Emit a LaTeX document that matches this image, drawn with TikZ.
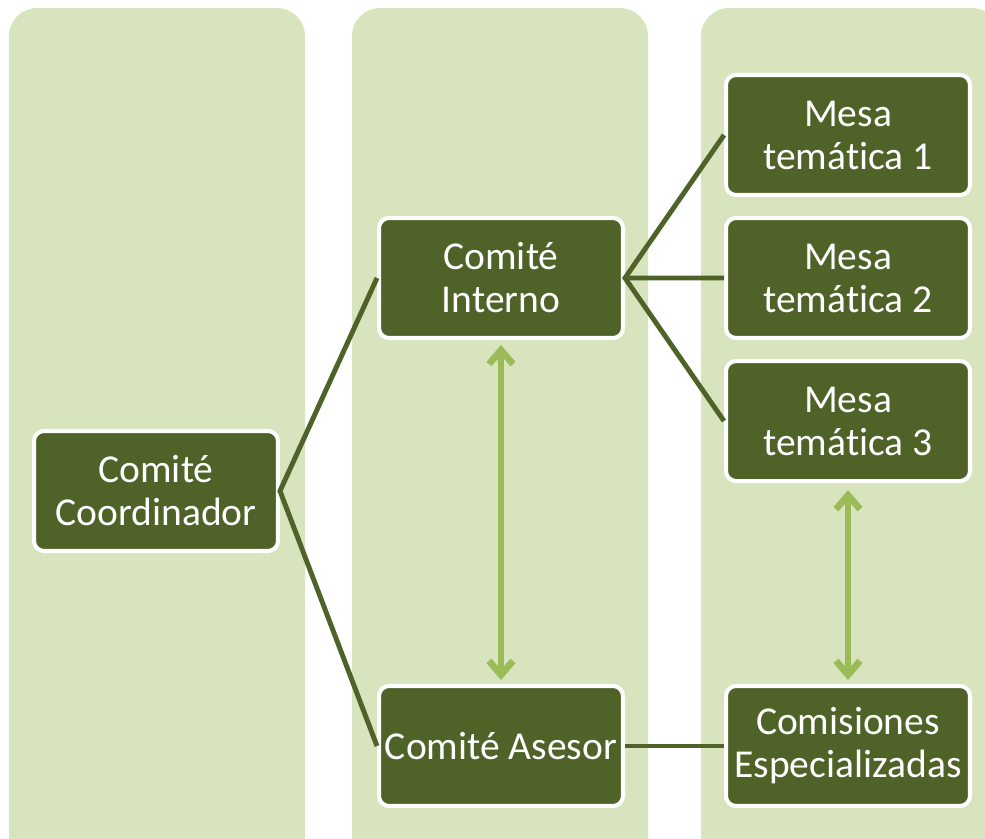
\documentclass[tikz,border=0pt]{standalone}
\usepackage{fontspec}
\setmainfont{Carlito}[RawFeature={-liga;-clig;-calt;-dlig}]
\usepackage{tikz}
\usetikzlibrary{positioning,arrows.meta}
\definecolor{leaf}{HTML}{4F6228}
\definecolor{pale}{HTML}{D7E4BD}
\definecolor{lime}{HTML}{9BBB59}
\tikzstyle{colbox} = [fill=pale, rounded corners=0.56cm]
\tikzstyle{unitbox} = [draw=white, fill=leaf, line width=2.3pt,
    rectangle, rounded corners=0.2cm, text=white, align=center,
    minimum width=4.88cm, minimum height=2.4cm, inner sep=2pt,
    font=\fontsize{22.5}{24.5}\selectfont]
\tikzstyle{link} = [draw=leaf, line width=2.8pt]
\tikzstyle{twoway} = [draw=lime, line width=3.8pt,
    {Straight Barb[length=0.28cm,width=0.48cm]}-{Straight Barb[length=0.28cm,width=0.48cm]}]

\begin{document}
\begin{tikzpicture}[x=0.02cm, y=-0.02cm]
\useasboundingbox (0,0) rectangle (985,839);
\clip (0,0) rectangle (985,839);

% background columns
\fill [colbox] (9,8) rectangle (305,880);
\fill [colbox] (352,8) rectangle (648,880);
\fill [colbox] (701,8) rectangle (1000,880);

\node [unitbox] (coord) at (156,491) {Comité\\Coordinador};
\node [unitbox] (interno) at (501,278) {Comité\\Interno};
\node [unitbox] (asesor) at (501,746) {Comité Asesor};

\node [unitbox] (mesa1) at (848,135) {Mesa\\temática 1};
\node [unitbox, below=0.38cm of mesa1] (mesa2) {Mesa\\temática 2};
\node [unitbox, below=0.38cm of mesa2] (mesa3) {Mesa\\temática 3};
\node [unitbox] (comis) at (848,746) {Comisiones\\Especializadas};

\draw [link] (interno.west) -- (coord.east) -- (asesor.west);
\draw [link] (mesa1.west) -- (interno.east) -- (mesa3.west);
\draw [link] (interno.east) -- (mesa2.west);
\draw [link] (asesor.east) -- (comis.west);

\draw [twoway] ([yshift=-0.1cm]interno.south) -- ([yshift=0.08cm]asesor.north);
\draw [twoway] ([yshift=-0.14cm]mesa3.south) -- ([yshift=0.08cm]comis.north);

\end{tikzpicture}
\end{document}
